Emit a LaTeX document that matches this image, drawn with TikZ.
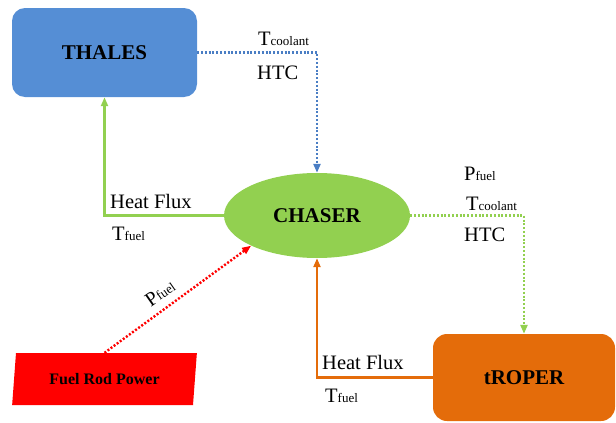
\documentclass[tikz,border=0pt]{standalone}
\usepackage{fontspec}
\setmainfont{Liberation Serif}
\usetikzlibrary{shapes.geometric,arrows.meta}
\definecolor{thblue}{HTML}{558ED5}
\definecolor{lnblue}{HTML}{4A7EC4}
\definecolor{chgreen}{HTML}{92D050}
\definecolor{trorange}{HTML}{E46C0A}
\definecolor{fred}{HTML}{FF0000}
\newcommand{\lbl}[2]{#1{\fontsize{13}{13}\selectfont #2}}
\tikzset{
  boxlbl/.style={font=\fontsize{21}{21}\selectfont\bfseries, text=black},
  lab/.style={font=\fontsize{20.5}{20.5}\selectfont, anchor=base west, inner sep=0pt},
  tip/.style={-{Triangle[length=9pt,width=7pt]}},
  dotline/.style={line width=2.4pt, dash pattern=on 2pt off 1.8pt},
  solidline/.style={line width=2.2pt},
}
\begin{document}
\begin{tikzpicture}[x=1pt,y=-1pt]
\useasboundingbox (0,0) rectangle (616,423);
\node[boxlbl, fill=thblue, rounded corners=13pt, minimum width=185pt, minimum height=89pt, inner sep=0pt] (thales) at (104.5,52.5) {THALES};
\node[boxlbl, ellipse, fill=chgreen, minimum width=186pt, minimum height=85pt, inner sep=0pt] (chaser) at (317,215.5) {CHASER};
\node[boxlbl, fill=trorange, rounded corners=14pt, minimum width=182pt, minimum height=87pt, inner sep=0pt] (troper) at (524,377.5) {tROPER};
\node[trapezium, trapezium left angle=78, trapezium right angle=102, trapezium stretches=true, fill=fred, minimum width=185pt, minimum height=52pt, inner sep=0pt, font=\fontsize{16}{16}\selectfont\bfseries] (fuel) at (104.5,379) {Fuel Rod Power};

\draw[dotline, lnblue, tip] (thales.east) -| (chaser.north);
\draw[solidline, chgreen, tip] (chaser.west) -| (thales.south);
\draw[dotline, chgreen, tip] (chaser.east) -| (troper.north);
\draw[solidline, trorange, tip] (troper.west) -| (chaser.south);
\draw[dotline, fred, tip] (fuel.north) -- (chaser.south west);

\node[lab] (l1) at (258,45) {\lbl{T}{coolant}};
\node[lab] (l2) at (257,79) {HTC};
\node[lab] (l3) at (110,208) {Heat Flux};
\node[lab] (l4) at (112,240) {\lbl{T}{fuel}};
\node[lab] (l5) at (464,180) {\lbl{P}{fuel}};
\node[lab] (l6) at (466,210) {\lbl{T}{coolant}};
\node[lab] (l7) at (464,241) {HTC};
\node[lab] (l8) at (322,369) {Heat Flux};
\node[lab] (l9) at (325,402) {\lbl{T}{fuel}};
\node[font=\fontsize{20}{20}\selectfont, rotate=35, inner sep=0pt] (l10) at (160,293) {\lbl{P}{fuel}};
\end{tikzpicture}
\end{document}
